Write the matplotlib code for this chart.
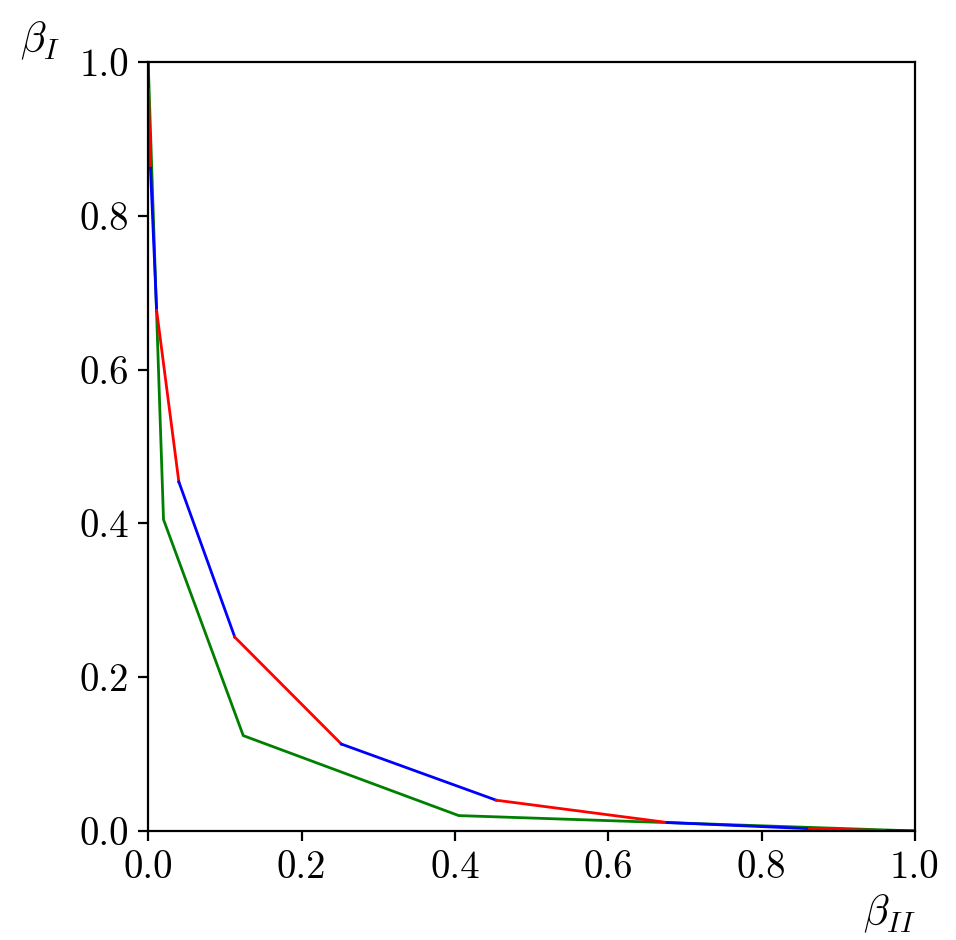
import numpy as np
import matplotlib
matplotlib.use('Agg')
import matplotlib.pyplot as plt

# Estilo tipo LaTeX (Computer Modern)
plt.rcParams['font.family'] = 'serif'
plt.rcParams['font.serif'] = ['cmr10']
plt.rcParams['mathtext.fontset'] = 'cm'
plt.rcParams['axes.formatter.use_mathtext'] = True
plt.rcParams['font.size'] = 14

# Curva rojo/azul (segmentos alternados)
beta_II_rb = [0.0, 0.0004, 0.003, 0.011, 0.040, 0.113, 0.252, 0.454, 0.677, 0.862, 0.964, 1.0]
beta_I_rb = [1.0, 0.964, 0.862, 0.677, 0.454, 0.252, 0.113, 0.040, 0.011, 0.003, 0.0004, 0.0]
colores_rb = ['blue', 'red']

# Curva verde
beta_II_g = [0.0, 0.020, 0.124, 0.405, 1.0]
beta_I_g = [1.0, 0.405, 0.124, 0.020, 0.0]

fig = plt.figure(figsize=(4.78, 4.7), dpi=200)
ax = fig.add_axes([0.155, 0.116, 0.802, 0.818])

ax.plot(beta_II_g, beta_I_g, color='green', lw=1.0)
for i in range(len(beta_II_rb) - 1):
    ax.plot(beta_II_rb[i:i+2], beta_I_rb[i:i+2], color=colores_rb[i % 2], lw=1.0)

ax.set_xlim(0, 1)
ax.set_ylim(0, 1)
ax.set_xticks(np.arange(0, 1.01, 0.2))
ax.set_yticks(np.arange(0, 1.01, 0.2))
ax.set_xticklabels([f'{t:.1f}' for t in np.arange(0, 1.01, 0.2)])
ax.set_yticklabels([f'{t:.1f}' for t in np.arange(0, 1.01, 0.2)])

ax.set_xlabel(r'$\beta_{II}$', fontsize=15)
ax.xaxis.set_label_coords(0.967, -0.08)
ax.set_ylabel(r'$\beta_{I}$', fontsize=15, rotation=0)
ax.yaxis.set_label_coords(-0.141, 1.0)

fig.savefig('out.png', dpi=200)
